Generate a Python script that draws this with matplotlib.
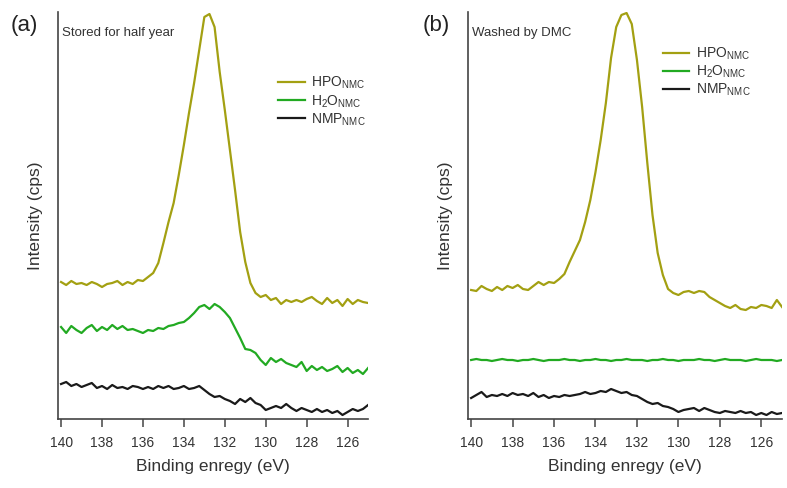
import matplotlib
matplotlib.use("Agg")
import matplotlib.pyplot as plt
import numpy as np

plt.rcParams['font.family'] = ['Liberation Sans', 'DejaVu Sans']
plt.rcParams['mathtext.fontset'] = 'custom'
plt.rcParams['mathtext.rm'] = 'Liberation Sans'
plt.rcParams['mathtext.it'] = 'Liberation Sans:italic'
plt.rcParams['mathtext.default'] = 'regular'

# binding energy grid (eV), high to low
energy = [140.0, 139.75, 139.5, 139.25, 139.0, 138.75, 138.5, 138.25,
          138.0, 137.75, 137.5, 137.25, 137.0, 136.75, 136.5, 136.25,
          136.0, 135.75, 135.5, 135.25, 135.0, 134.75, 134.5, 134.25,
          134.0, 133.75, 133.5, 133.25, 133.0, 132.75, 132.5, 132.25,
          132.0, 131.75, 131.5, 131.25, 131.0, 130.75, 130.5, 130.25,
          130.0, 129.75, 129.5, 129.25, 129.0, 128.75, 128.5, 128.25,
          128.0, 127.75, 127.5, 127.25, 127.0, 126.75, 126.5, 126.25,
          126.0, 125.75, 125.5, 125.25, 125.0]

# (a) stored for half year -- offset intensities (a.u.)
hpo_a = [138, 135, 139, 136, 137, 135, 138, 136, 133, 136, 137, 139, 135, 138,
         136, 140, 139, 143, 147, 157, 177, 198, 217, 245, 275, 307, 337, 370,
         403, 406, 393, 348, 310, 270, 230, 188, 158, 137, 127, 123, 125, 120,
         122, 116, 120, 118, 120, 118, 121, 123, 119, 116, 122, 117, 120, 114,
         121, 116, 120, 118, 117]
h2o_a = [93, 87, 94, 90, 87, 92, 95, 89, 93, 90, 95, 91, 94, 90, 91, 89, 87,
         90, 89, 92, 91, 94, 95, 97, 98, 102, 107, 113, 115, 111, 116, 113, 108,
         102, 92, 82, 71, 70, 67, 60, 55, 62, 58, 61, 57, 55, 53, 58, 49, 54, 50,
         53, 49, 51, 54, 48, 52, 47, 50, 46, 52]
nmp_a = [36, 38, 34, 36, 33, 35, 37, 32, 34, 31, 35, 32, 33, 31, 34, 33, 31,
         33, 31, 34, 32, 34, 31, 32, 34, 31, 32, 34, 30, 26, 23, 24, 21, 19, 16,
         21, 18, 22, 17, 15, 10, 12, 14, 12, 16, 12, 9, 12, 10, 8, 11, 8, 10, 7,
         9, 5, 8, 11, 9, 11, 15]

# (b) washed by DMC
hpo_b = [130, 129, 134, 131, 129, 133, 130, 134, 132, 135, 131, 130, 134, 138,
         135, 138, 137, 141, 146, 158, 169, 180, 198, 220, 248, 280, 317, 362,
         393, 405, 407, 396, 360, 313, 257, 205, 167, 145, 131, 127, 125, 128,
         129, 127, 129, 128, 123, 120, 117, 114, 112, 115, 111, 110, 113, 112,
         115, 114, 112, 120, 113]
h2o_b = [60, 61, 60, 60, 59, 60, 61, 60, 60, 59, 60, 60, 61, 60, 59, 60, 60,
         60, 61, 60, 60, 59, 60, 60, 61, 60, 60, 59, 60, 60, 61, 60, 60, 60, 59,
         60, 60, 61, 60, 60, 59, 60, 60, 60, 61, 60, 60, 59, 60, 61, 60, 60, 60,
         59, 60, 61, 60, 60, 60, 59, 60]
nmp_b = [22, 25, 28, 23, 25, 24, 26, 24, 27, 25, 26, 24, 27, 23, 25, 22, 24,
         23, 25, 24, 25, 26, 28, 26, 27, 29, 28, 31, 29, 27, 28, 25, 24, 21, 18,
         16, 17, 14, 13, 11, 8, 10, 11, 12, 9, 12, 10, 8, 7, 9, 8, 7, 9, 7, 8, 5,
         7, 5, 8, 6, 7]

labels = [r'HPO$_{NMC}$', r'H$_{2}$O$_{NMC}$', r'NMP$_{NMC}$']
colors = ['#a3a012', '#22aa22', '#1a1a1a']
txt = '#333333'

fig = plt.figure(figsize=(7.87, 4.88), dpi=100)
ax_a = fig.add_axes([0.0737, 0.1414, 0.394, 0.834])
ax_b = fig.add_axes([0.5947, 0.1414, 0.399, 0.834])

panels = [
    (ax_a, [hpo_a, h2o_a, nmp_a], 'Stored for half year', (0.71, 0.845)),
    (ax_b, [hpo_b, h2o_b, nmp_b], 'Washed by DMC', (0.62, 0.918)),
]

for ax, series, note, leg_pos in panels:
    for ys, lab, c in zip(series, labels, colors):
        ax.plot(energy, ys, color=c, lw=1.6, label=lab)
    ax.set_xlim(140.15, 125.0)
    ax.set_ylim(1, 408)
    ax.set_xticks([140, 138, 136, 134, 132, 130, 128, 126])
    ax.set_yticks([])
    for s in ['top', 'right']:
        ax.spines[s].set_visible(False)
    for s in ['left', 'bottom']:
        ax.spines[s].set_color('#444444')
        ax.spines[s].set_linewidth(1.2)
    ax.tick_params(axis='x', direction='out', length=5.5, width=1.1,
                   color='#444444', labelsize=10, labelcolor=txt, pad=7)
    ax.set_xlabel('Binding enregy (eV)', fontsize=12.5, color=txt, labelpad=6)
    ax.set_ylabel('Intensity (cps)', fontsize=12.5, color=txt, labelpad=11)
    ax.text(0.012, 0.948, note, transform=ax.transAxes, fontsize=9.5,
            color=txt, va='center', ha='left')
    leg = ax.legend(loc='upper left', bbox_to_anchor=leg_pos, frameon=False,
                    fontsize=10, handlelength=1.9, handletextpad=0.5,
                    labelspacing=0.12, borderpad=0, borderaxespad=0)
    for t in leg.get_texts():
        t.set_color(txt)

fig.text(11 / 787, 1 - 25 / 488, '(a)', fontsize=16, color='#222222',
         ha='left', va='center')
fig.text(423 / 787, 1 - 25 / 488, '(b)', fontsize=16, color='#222222',
         ha='left', va='center')

fig.savefig('out.png', dpi=100)
